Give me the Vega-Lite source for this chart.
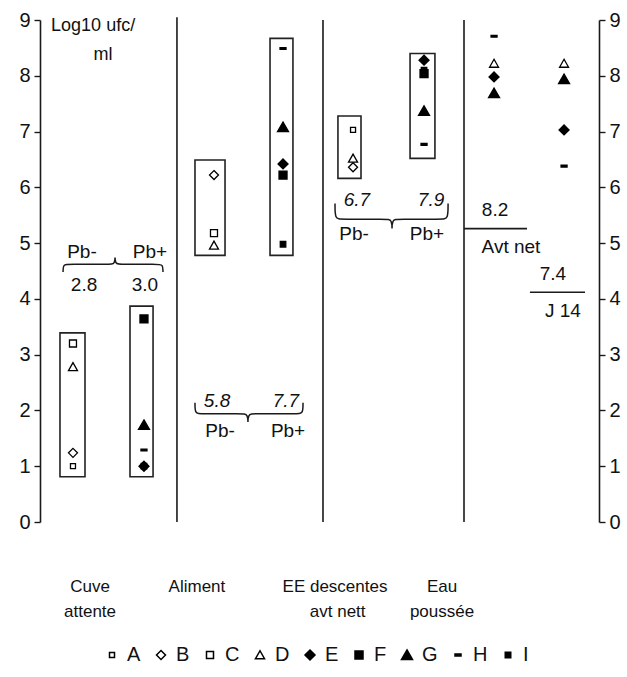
{
  "$schema": "https://vega.github.io/schema/vega-lite/v6.json",
  "width": 559,
  "height": 502,
  "autosize": {"type": "none"},
  "padding": {"left": 40, "top": 20, "right": 28, "bottom": 155},
  "background": "white",
  "config": {
    "view": {"stroke": null},
    "font": "Liberation Sans",
    "axis": {"grid": false, "domainColor": "#1a1a1a", "tickColor": "#1a1a1a", "labelColor": "#111", "labelFont": "Liberation Sans", "labelFontSize": 20, "domainWidth": 1.6, "tickWidth": 1.4, "tickSize": 6, "labelPadding": 4}
  },
  "datasets": {
    "pts": [
      {"x": 0.236, "v": 3.2, "s": "C"},
      {"x": 0.236, "v": 2.78, "s": "D"},
      {"x": 0.236, "v": 1.24, "s": "B"},
      {"x": 0.236, "v": 1.0, "s": "A"},
      {"x": 0.744, "v": 3.64, "s": "F"},
      {"x": 0.744, "v": 1.74, "s": "G"},
      {"x": 0.744, "v": 1.29, "s": "H"},
      {"x": 0.744, "v": 1.0, "s": "I"},
      {"x": 0.744, "v": 1.0, "s": "E"},
      {"x": 1.245, "v": 6.22, "s": "B"},
      {"x": 1.245, "v": 5.18, "s": "C"},
      {"x": 1.245, "v": 4.96, "s": "D"},
      {"x": 1.739, "v": 8.49, "s": "H"},
      {"x": 1.739, "v": 7.08, "s": "G"},
      {"x": 1.739, "v": 6.42, "s": "E"},
      {"x": 1.739, "v": 6.22, "s": "F"},
      {"x": 1.739, "v": 4.98, "s": "I"},
      {"x": 2.24, "v": 7.03, "s": "A"},
      {"x": 2.24, "v": 6.52, "s": "D"},
      {"x": 2.24, "v": 6.36, "s": "B"},
      {"x": 2.748, "v": 8.28, "s": "E"},
      {"x": 2.748, "v": 8.1, "s": "I"},
      {"x": 2.748, "v": 8.04, "s": "F"},
      {"x": 2.748, "v": 7.37, "s": "G"},
      {"x": 2.748, "v": 6.77, "s": "H"},
      {"x": 3.249, "v": 8.71, "s": "H"},
      {"x": 3.249, "v": 8.22, "s": "D"},
      {"x": 3.249, "v": 7.98, "s": "E"},
      {"x": 3.249, "v": 7.69, "s": "G"},
      {"x": 3.75, "v": 8.22, "s": "D"},
      {"x": 3.75, "v": 7.94, "s": "G"},
      {"x": 3.75, "v": 7.03, "s": "E"},
      {"x": 3.75, "v": 6.38, "s": "H"}
    ],
    "boxes": [
      {"x": 0.143, "x2": 0.322, "v": 0.81, "v2": 3.39},
      {"x": 0.644, "x2": 0.809, "v": 0.81, "v2": 3.87},
      {"x": 1.109, "x2": 1.324, "v": 4.78, "v2": 6.49},
      {"x": 1.646, "x2": 1.81, "v": 4.78, "v2": 8.67},
      {"x": 2.132, "x2": 2.297, "v": 6.16, "v2": 7.28},
      {"x": 2.648, "x2": 2.826, "v": 6.52, "v2": 8.4}
    ],
    "lines": [
      {"x": 0.98, "x2": 0.98, "v": 0, "v2": 9.05},
      {"x": 2.025, "x2": 2.025, "v": 0, "v2": 9.0},
      {"x": 3.034, "x2": 3.034, "v": 0, "v2": 9.0},
      {"x": 3.034, "x2": 3.485, "v": 5.26, "v2": 5.26},
      {"x": 3.506, "x2": 3.9, "v": 4.12, "v2": 4.12}
    ],
    "braces": [
      {"b": 1, "i": 1, "x": 0.165, "v": 4.48},
      {"b": 1, "i": 2, "x": 0.165, "v": 4.62},
      {"b": 1, "i": 3, "x": 0.205, "v": 4.62},
      {"b": 1, "i": 4, "x": 0.497, "v": 4.62},
      {"b": 1, "i": 5, "x": 0.537, "v": 4.62},
      {"b": 1, "i": 6, "x": 0.537, "v": 4.8},
      {"b": 1, "i": 7, "x": 0.537, "v": 4.62},
      {"b": 1, "i": 8, "x": 0.577, "v": 4.62},
      {"b": 1, "i": 9, "x": 0.84, "v": 4.62},
      {"b": 1, "i": 10, "x": 0.88, "v": 4.62},
      {"b": 1, "i": 11, "x": 0.88, "v": 4.48},
      {"b": 2, "i": 1, "x": 1.109, "v": 2.14},
      {"b": 2, "i": 2, "x": 1.109, "v": 1.94},
      {"b": 2, "i": 3, "x": 1.149, "v": 1.94},
      {"b": 2, "i": 4, "x": 1.448, "v": 1.94},
      {"b": 2, "i": 5, "x": 1.488, "v": 1.94},
      {"b": 2, "i": 6, "x": 1.488, "v": 1.72},
      {"b": 2, "i": 7, "x": 1.488, "v": 1.94},
      {"b": 2, "i": 8, "x": 1.528, "v": 1.94},
      {"b": 2, "i": 9, "x": 1.842, "v": 1.94},
      {"b": 2, "i": 10, "x": 1.882, "v": 1.94},
      {"b": 2, "i": 11, "x": 1.882, "v": 2.14},
      {"b": 3, "i": 1, "x": 2.111, "v": 5.71},
      {"b": 3, "i": 2, "x": 2.111, "v": 5.43},
      {"b": 3, "i": 3, "x": 2.151, "v": 5.43},
      {"b": 3, "i": 4, "x": 2.479, "v": 5.43},
      {"b": 3, "i": 5, "x": 2.519, "v": 5.43},
      {"b": 3, "i": 6, "x": 2.519, "v": 5.18},
      {"b": 3, "i": 7, "x": 2.519, "v": 5.43},
      {"b": 3, "i": 8, "x": 2.559, "v": 5.43},
      {"b": 3, "i": 9, "x": 2.88, "v": 5.43},
      {"b": 3, "i": 10, "x": 2.92, "v": 5.43},
      {"b": 3, "i": 11, "x": 2.92, "v": 5.71}
    ],
    "labels": [
      {"x": 0.38, "v": 8.9, "t": "Log10 ufc/", "k": "title"},
      {"x": 0.45, "v": 8.37, "t": "ml", "k": "title"},
      {"x": 0.3, "v": 4.84, "t": "Pb-", "k": "note"},
      {"x": 0.787, "v": 4.84, "t": "Pb+", "k": "note"},
      {"x": 0.315, "v": 4.25, "t": "2.8", "k": "note"},
      {"x": 0.751, "v": 4.25, "t": "3.0", "k": "note"},
      {"x": 1.288, "v": 1.63, "t": "Pb-", "k": "note"},
      {"x": 1.775, "v": 1.63, "t": "Pb+", "k": "note"},
      {"x": 2.247, "v": 5.16, "t": "Pb-", "k": "note"},
      {"x": 2.769, "v": 5.16, "t": "Pb+", "k": "note"},
      {"x": 3.256, "v": 5.59, "t": "8.2", "k": "note"},
      {"x": 3.37, "v": 4.93, "t": "Avt net", "k": "note"},
      {"x": 3.67, "v": 4.45, "t": "7.4", "k": "note"},
      {"x": 3.742, "v": 3.79, "t": "J 14", "k": "note"},
      {"x": 1.267, "v": 2.17, "t": "5.8", "k": "it"},
      {"x": 1.76, "v": 2.17, "t": "7.7", "k": "it"},
      {"x": 2.268, "v": 5.77, "t": "6.7", "k": "it"},
      {"x": 2.798, "v": 5.77, "t": "7.9", "k": "it"},
      {"x": 0.358, "v": -1.165, "t": "Cuve", "k": "cat"},
      {"x": 0.358, "v": -1.61, "t": "attente", "k": "cat"},
      {"x": 1.123, "v": -1.165, "t": "Aliment", "k": "cat"},
      {"x": 2.111, "v": -1.165, "t": "EE descentes", "k": "cat"},
      {"x": 2.13, "v": -1.61, "t": "avt nett", "k": "cat"},
      {"x": 2.877, "v": -1.165, "t": "Eau", "k": "cat"},
      {"x": 2.877, "v": -1.61, "t": "poussée", "k": "cat"}
    ]
  },
  "layer": [
    {
      "data": {"name": "lines"},
      "mark": {"type": "rule", "stroke": "#1a1a1a", "strokeWidth": 1.6},
      "encoding": {
        "x": {"field": "x", "type": "quantitative", "scale": {"domain": [0, 4], "nice": false, "zero": false}, "axis": null},
        "x2": {"field": "x2"},
        "y": {"field": "v", "type": "quantitative", "scale": {"domain": [0, 9], "nice": false}, "axis": {"orient": "right", "title": null, "values": [0, 1, 2, 3, 4, 5, 6, 7, 8, 9]}},
        "y2": {"field": "v2"}
      }
    },
    {
      "data": {"name": "boxes"},
      "mark": {"type": "rect", "fill": "white", "fillOpacity": 0, "stroke": "#222", "strokeWidth": 1.6},
      "encoding": {
        "x": {"field": "x", "type": "quantitative", "scale": {"domain": [0, 4], "nice": false, "zero": false}, "axis": null},
        "x2": {"field": "x2"},
        "y": {"field": "v", "type": "quantitative", "scale": {"domain": [0, 9], "nice": false}, "axis": null},
        "y2": {"field": "v2"}
      }
    },
    {
      "data": {"name": "braces"},
      "mark": {"type": "line", "interpolate": "basis", "stroke": "#1a1a1a", "strokeWidth": 1.5},
      "encoding": {
        "x": {"field": "x", "type": "quantitative", "scale": {"domain": [0, 4], "nice": false, "zero": false}, "axis": null},
        "y": {"field": "v", "type": "quantitative", "scale": {"domain": [0, 9], "nice": false}, "axis": null},
        "detail": {"field": "b", "type": "nominal"},
        "order": {"field": "i", "type": "quantitative"}
      }
    },
    {
      "data": {"name": "pts"},
      "mark": {"type": "point", "filled": true, "stroke": "black", "strokeWidth": 1.3, "size": 100, "opacity": 1},
      "encoding": {
        "x": {"field": "x", "type": "quantitative", "scale": {"domain": [0, 4], "nice": false, "zero": false}, "axis": {"orient": "bottom", "title": null, "labels": false, "ticks": false, "domain": true}},
        "y": {"field": "v", "type": "quantitative", "scale": {"domain": [0, 9], "nice": false}, "axis": {"orient": "left", "title": null, "values": [0, 1, 2, 3, 4, 5, 6, 7, 8, 9]}},
        "shape": {
          "field": "s", "type": "nominal",
          "scale": {
            "domain": ["A", "B", "C", "D", "E", "F", "G", "H", "I"],
            "range": [
              "M-0.5,-0.5H0.5V0.5H-0.5Z",
              "M0,-0.9L0.9,0L0,0.9L-0.9,0Z",
              "M-0.7,-0.7H0.7V0.7H-0.7Z",
              "M0,-0.85L0.9,0.75H-0.9Z",
              "M0,-1L1,0L0,1L-1,0Z",
              "M-0.8,-0.8H0.8V0.8H-0.8Z",
              "M0,-1L1.1,0.9H-1.1Z",
              "M-0.6,-0.18H0.6V0.18H-0.6Z",
              "M-0.55,-0.55H0.55V0.55H-0.55Z"
            ]
          },
          "legend": {"orient": "none", "legendX": 62, "legendY": 625, "direction": "horizontal", "columns": 9, "title": null, "labelFontSize": 20, "labelFont": "Liberation Sans", "labelColor": "#111", "symbolSize": 100, "labelOffset": 5, "columnPadding": 10, "encode": {"symbols": {"update": {"stroke": {"value": "black"}, "strokeWidth": {"value": 1.3}}}}}
        },
        "fill": {
          "field": "s", "type": "nominal",
          "scale": {"domain": ["A", "B", "C", "D", "E", "F", "G", "H", "I"], "range": ["white", "white", "white", "white", "black", "black", "black", "black", "black"]},
          "legend": {"orient": "none", "legendX": 62, "legendY": 625, "direction": "horizontal", "columns": 9, "title": null, "labelFontSize": 20, "labelFont": "Liberation Sans", "labelColor": "#111", "symbolSize": 100, "labelOffset": 5, "columnPadding": 10, "encode": {"symbols": {"update": {"stroke": {"value": "black"}, "strokeWidth": {"value": 1.3}}}}}
        }
      }
    },
    {
      "data": {"name": "labels"},
      "transform": [{"filter": "datum.k === 'title'"}],
      "mark": {"type": "text", "fontSize": 18, "font": "Liberation Sans", "align": "center", "baseline": "middle", "color": "#111"},
      "encoding": {
        "x": {"field": "x", "type": "quantitative", "scale": {"domain": [0, 4], "nice": false, "zero": false}, "axis": null},
        "y": {"field": "v", "type": "quantitative", "scale": {"domain": [0, 9], "nice": false}, "axis": null},
        "text": {"field": "t"}
      }
    },
    {
      "data": {"name": "labels"},
      "transform": [{"filter": "datum.k === 'note'"}],
      "mark": {"type": "text", "fontSize": 19, "font": "Liberation Sans", "align": "center", "baseline": "middle", "color": "#111"},
      "encoding": {
        "x": {"field": "x", "type": "quantitative", "scale": {"domain": [0, 4], "nice": false, "zero": false}, "axis": null},
        "y": {"field": "v", "type": "quantitative", "scale": {"domain": [0, 9], "nice": false}, "axis": null},
        "text": {"field": "t"}
      }
    },
    {
      "data": {"name": "labels"},
      "transform": [{"filter": "datum.k === 'it'"}],
      "mark": {"type": "text", "fontSize": 19, "font": "Liberation Sans", "fontStyle": "italic", "align": "center", "baseline": "middle", "color": "#111"},
      "encoding": {
        "x": {"field": "x", "type": "quantitative", "scale": {"domain": [0, 4], "nice": false, "zero": false}, "axis": null},
        "y": {"field": "v", "type": "quantitative", "scale": {"domain": [0, 9], "nice": false}, "axis": null},
        "text": {"field": "t"}
      }
    },
    {
      "data": {"name": "labels"},
      "transform": [{"filter": "datum.k === 'cat'"}],
      "mark": {"type": "text", "fontSize": 17, "font": "Liberation Sans", "align": "center", "baseline": "middle", "color": "#111"},
      "encoding": {
        "x": {"field": "x", "type": "quantitative", "scale": {"domain": [0, 4], "nice": false, "zero": false}, "axis": null},
        "y": {"field": "v", "type": "quantitative", "scale": {"domain": [0, 9], "nice": false}, "axis": null},
        "text": {"field": "t"}
      }
    }
  ],
  "resolve": {"axis": {"y": "independent"}}
}
